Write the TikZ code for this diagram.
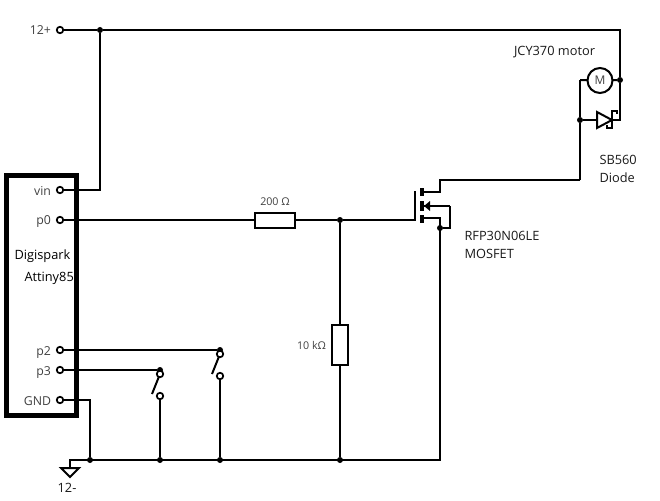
\documentclass[tikz,border=0pt]{standalone}
\usepackage{fontspec}
\setmainfont{Open Sans}
\usetikzlibrary{arrows.meta}
\definecolor{pin}{HTML}{404040}
\tikzset{
  every picture/.style={x=1pt,y=-1pt,line width=2pt},
  wire/.style={line width=2pt,line cap=butt,line join=miter},
  term/.style={circle,draw,fill=white,line width=1.7pt,minimum size=6.5pt,inner sep=0pt,outer sep=0pt},
  jdot/.style={circle,fill=black,minimum size=6pt,inner sep=0pt,outer sep=0pt},
  res/.style={rectangle,draw,fill=white,line width=2pt,inner sep=0pt,outer sep=0pt},
  lab/.style={font=\fontsize{12.8}{15}\selectfont,text=black!90,inner sep=0pt},
  pinlab/.style={font=\fontsize{12.3}{15}\selectfont,text=pin,inner sep=0pt,anchor=east},
  small/.style={font=\fontsize{10.7}{13}\selectfont,text=pin,inner sep=0pt},
}
\begin{document}
\begin{tikzpicture}
\useasboundingbox (0,0) rectangle (660,500);
% board
\node[draw,line width=5pt,minimum width=70pt,minimum height=240.5pt,inner sep=0pt,outer sep=0pt] (board) at (41.5,295.7) {};
% terminals
\node[term] (tplus) at (60,30) {};
\node[term] (tvin) at (60,190) {};
\node[term] (tp0) at (60,220) {};
\node[term] (tp2) at (60,350) {};
\node[term] (tp3) at (60,370) {};
\node[term] (tgnd) at (60,400) {};
% junctions
\node[jdot] (jtop) at (100,30) {};
\coordinate (cvin) at (100,190);
\coordinate (ctr) at (620,30);
\node[jdot] (jmot) at (620,80) {};
\coordinate (cdr) at (620,120);
\node[jdot] (jdio) at (580,120) {};
\coordinate (cml) at (580,80);
\coordinate (cdrain) at (580,180);
\coordinate (cd1) at (440,180);
\coordinate (cd2) at (440,192);
\node[jdot] (jgate) at (340,220) {};
\coordinate (cg1) at (415,220);
\coordinate (cg2) at (415,191);
\coordinate (cs1) at (424,218);
\coordinate (cs2) at (440,218);
\node[jdot] (jsrc) at (440,228) {};
\coordinate (cb1) at (424,206);
\coordinate (cb2) at (450,206);
\coordinate (cb3) at (450,228);
\coordinate (cd0) at (424,192);
\coordinate (cgr) at (440,460);
\node[jdot] (jr) at (340,460) {};
\node[jdot] (js2) at (220,460) {};
\node[jdot] (js3) at (160,460) {};
\node[jdot] (jg) at (90,460) {};
\coordinate (cgl) at (70,460);
\coordinate (cgs) at (70,468);
\coordinate (cgnd) at (90,400);
% wires
\draw[wire] (tplus) -- (jtop) -- (ctr) -- (jmot) -- (cdr) -- (612,120);
\draw[wire] (jtop) -- (cvin) -- (tvin);
\node[res,minimum width=40pt,minimum height=15pt] (r200) at (275,220) {};
\draw[wire] (tp0) -- (r200) -- (jgate) -- (cg1) -- (cg2);
\node[res,minimum width=16pt,minimum height=40pt] (r10k) at (340,345) {};
\draw[wire] (jgate) -- (r10k) -- (jr);
\draw[wire] (cdrain) -- (jdio) -- (cml);
\draw[wire] (cdrain) -- (cd1) -- (cd2) -- (cd0);
\draw[wire] (cs1) -- (cs2) -- (cgr) -- (cgl) -- (cgs);
\draw[wire] (cb2) -- (cb1);
\draw[wire] (cb2) -- (cb3) -- (jsrc);
\draw[wire] (tgnd) -- (cgnd) -- (jg);
% motor
\node[circle,draw,fill=white,line width=2pt,minimum size=25pt,inner sep=0pt,outer sep=0pt,font=\fontsize{12}{14}\selectfont,text=pin] (motor) at (600,80.5) {M};
\draw[wire] (cml) -- (motor);
\draw[wire] (motor) -- (jmot);
% diode
\coordinate (dtl) at (597,112);
\coordinate (dbl) at (597,128);
\coordinate (dk) at (612,120);
\draw[wire,fill=white,line join=miter] (dtl) -- (dk) -- (dbl) -- cycle;
\draw[wire] (jdio) -- (597,120);
\draw[wire] (617,114) -- (617,111) -- (612,111) -- (612,128) -- (607,128) -- (607,125);
% mosfet channel
\draw[line width=4pt] (422,188) -- (422,196);
\draw[line width=4pt] (422,201) -- (422,211);
\draw[line width=4pt] (422,215) -- (422,223);
\fill (424,206) -- (430,201) -- (430,211) -- cycle;
% switches
\node[jdot] (j2) at (220,350) {};
\node[jdot] (j3) at (160,370) {};
\node[term] (s2a) at (220,354) {};
\node[term] (s2b) at (220,376) {};
\node[term] (s3a) at (160,374) {};
\node[term] (s3b) at (160,396) {};
\draw[wire] (tp2) -- (j2);
\draw[wire] (tp3) -- (j3);
\draw[wire] (s2b) -- (js2);
\draw[wire] (s3b) -- (js3);
\coordinate (b2) at (212,374);
\coordinate (b3) at (152,394);
\draw[wire] (s2a) -- (b2);
\draw[wire] (s3a) -- (b3);
% ground
\draw[wire,line join=miter] (61,468) -- (79,468) -- (70,477) -- cycle;
% labels
\node[pinlab] (l12p) at (52,30.5) {12+};
\node[pinlab] (lvin) at (52,190.5) {vin};
\node[pinlab] (lp0) at (52,222) {p0};
\node[pinlab] (lp2) at (52,352.5) {p2};
\node[pinlab] (lp3) at (52,372.5) {p3};
\node[pinlab] (lgnd) at (52,401) {GND};
\node[lab,text=black,anchor=west] (ldig) at (13.5,256) {Digispark};
\node[lab,text=black,anchor=west] (latt) at (23.5,278) {Attiny85};
\node[small] (l200) at (275,201.5) {200 Ω};
\node[small] (l10k) at (311.5,345) {10 kΩ};
\node[lab,anchor=west] (ljcy) at (513,52.5) {JCY370 motor};
\node[lab,anchor=west] (lsb) at (598.5,160) {SB560};
\node[lab,anchor=west] (ldi) at (598.5,178) {Diode};
\node[lab,anchor=west] (lrf) at (463.5,236) {RFP30N06LE};
\node[lab,anchor=west] (lmo) at (463.5,254) {MOSFET};
\node[lab] (l12m) at (67,488) {12-};
\end{tikzpicture}
\end{document}
